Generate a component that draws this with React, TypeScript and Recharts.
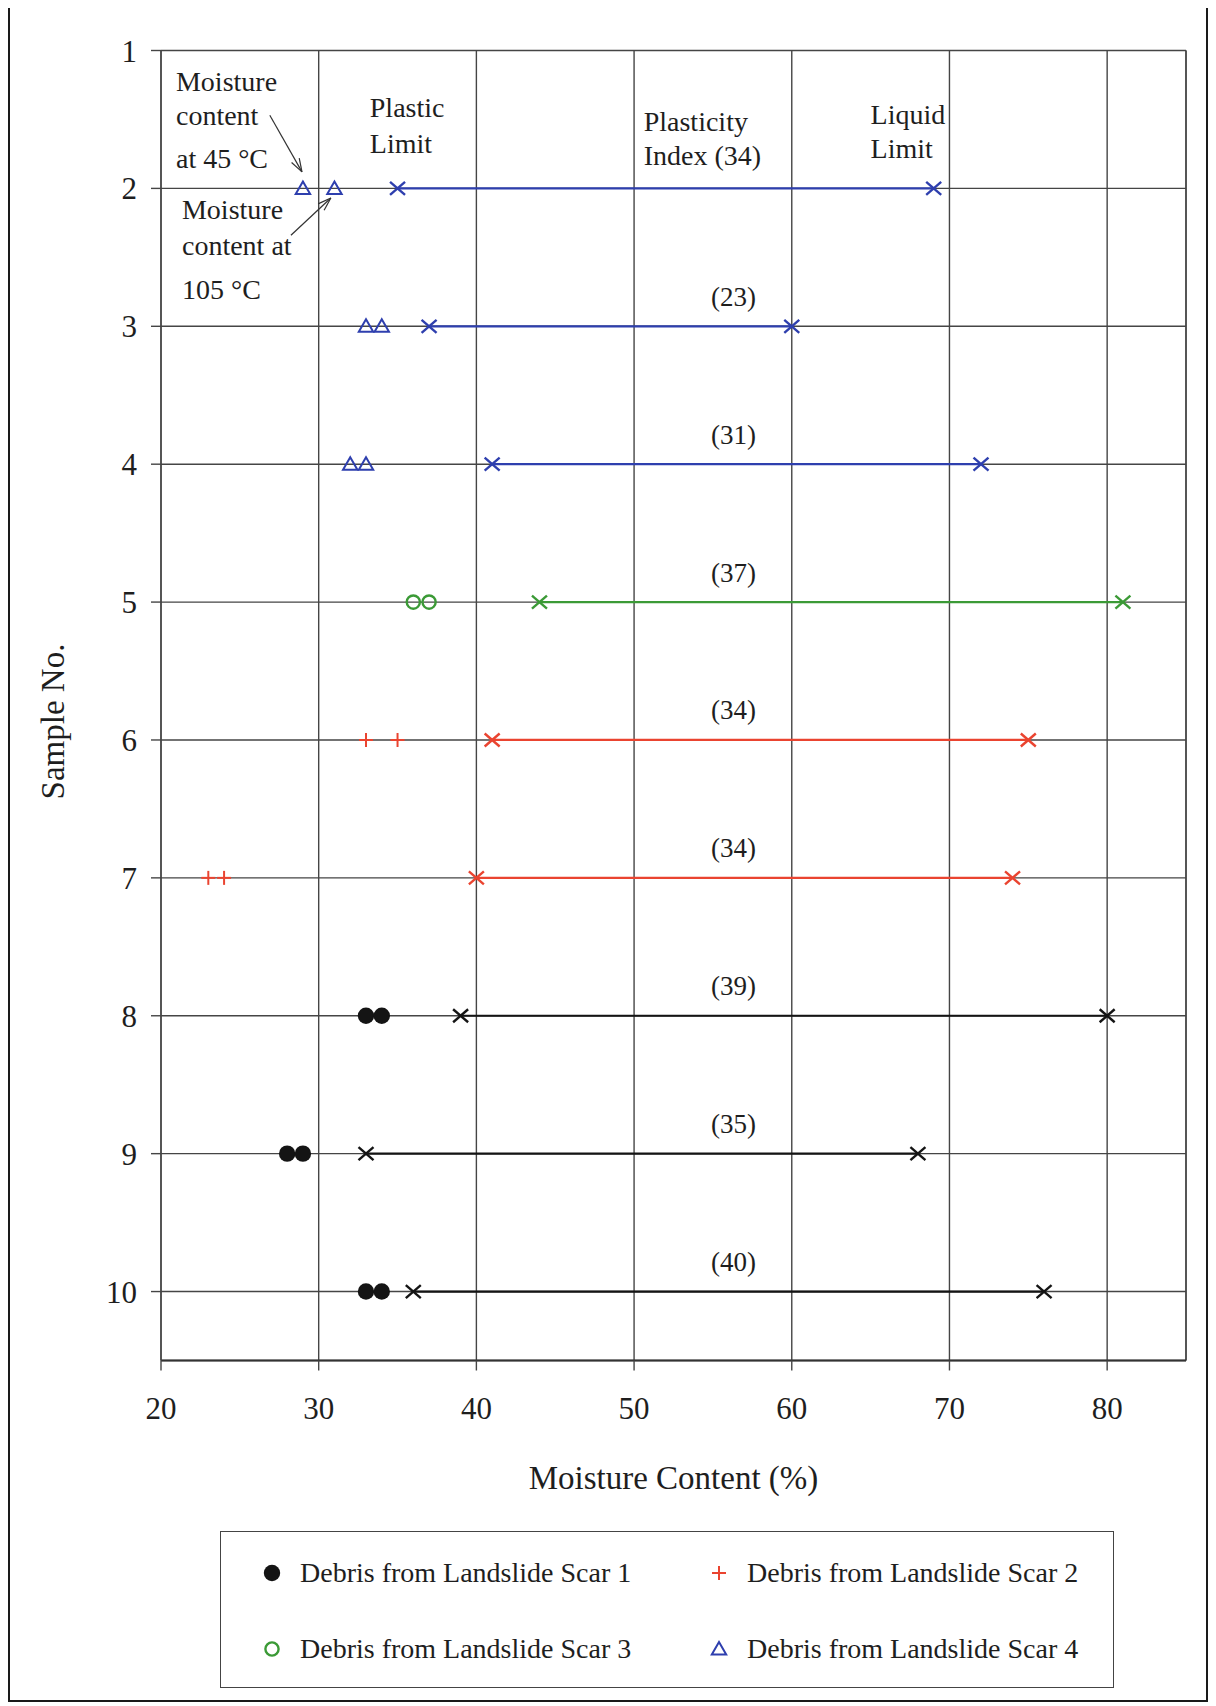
import { ScatterChart, Scatter, XAxis, YAxis, CartesianGrid, ReferenceLine, Label } from 'recharts'

// sample rows and their test results (moisture content, %)
const samples = [2, 3, 4, 5, 6, 7, 8, 9, 10]
const scarOf = [4, 4, 4, 3, 2, 2, 1, 1, 1]
const mc45 = [29, 33, 32, 36, 33, 23, 33, 28, 33]
const mc105 = [31, 34, 33, 37, 35, 24, 34, 29, 34]
const plasticLimit = [35, 37, 41, 44, 41, 40, 39, 33, 36]
const liquidLimit = [69, 60, 72, 81, 75, 74, 80, 68, 76]
const plasticityIndex = [34, 23, 31, 37, 34, 34, 39, 35, 40]

const xTicks = [20, 30, 40, 50, 60, 70, 80]
const yTicks = [1, 2, 3, 4, 5, 6, 7, 8, 9, 10]

type Sym = 'dot' | 'plus' | 'ring' | 'triangle'

const scars: { id: number; name: string; color: string; symbol: Sym }[] = [
  { id: 1, name: 'Debris from Landslide Scar 1', color: '#141414', symbol: 'dot' },
  { id: 2, name: 'Debris from Landslide Scar 2', color: '#ea4430', symbol: 'plus' },
  { id: 3, name: 'Debris from Landslide Scar 3', color: '#3b9a36', symbol: 'ring' },
  { id: 4, name: 'Debris from Landslide Scar 4', color: '#2e3fae', symbol: 'triangle' },
]

// text notes, placed in chart units (x = %, y = sample no.)
const notes = [
  { x: 20.95, y: 1.22, text: 'Moisture' },
  { x: 20.95, y: 1.47, text: 'content' },
  { x: 20.95, y: 1.78, text: 'at 45 °C' },
  { x: 21.33, y: 2.15, text: 'Moisture' },
  { x: 21.33, y: 2.41, text: 'content at' },
  { x: 21.33, y: 2.73, text: '105 °C' },
  { x: 33.24, y: 1.41, text: 'Plastic' },
  { x: 33.24, y: 1.67, text: 'Limit' },
  { x: 50.61, y: 1.51, text: 'Plasticity' },
  { x: 50.61, y: 1.76, text: 'Index (34)' },
  { x: 65.0, y: 1.46, text: 'Liquid' },
  { x: 65.0, y: 1.71, text: 'Limit' },
]

const arrows = [
  { from: { x: 26.9, y: 1.47 }, to: { x: 28.94, y: 1.88 } },
  { from: { x: 28.24, y: 2.34 }, to: { x: 30.77, y: 2.07 } },
]

const PI_LABEL_X = 56.3
const FONT = "'Liberation Serif', 'Times New Roman', serif"
const GRID = '#454545'

const scarById = (id: number) => scars.find(s => s.id === id)!

function drawSymbol(sym: Sym, cx: number, cy: number, color: string) {
  switch (sym) {
    case 'dot':
      return <circle cx={cx} cy={cy} r={8.2} fill={color} />
    case 'ring':
      return <circle cx={cx} cy={cy} r={6.6} fill="none" stroke={color} strokeWidth={2.4} />
    case 'plus':
      return (
        <g stroke={color} strokeWidth={2}>
          <line x1={cx - 7} y1={cy} x2={cx + 7} y2={cy} />
          <line x1={cx} y1={cy - 7} x2={cx} y2={cy + 7} />
        </g>
      )
    default:
      return (
        <polygon
          points={`${cx},${cy - 7} ${cx + 7.2},${cy + 5.5} ${cx - 7.2},${cy + 5.5}`}
          fill="none"
          stroke={color}
          strokeWidth={2}
        />
      )
  }
}

const xMark = (color: string) => (p: any) => (
  <g stroke={color} strokeWidth={2.4}>
    <line x1={p.cx - 7.5} y1={p.cy - 6.5} x2={p.cx + 7.5} y2={p.cy + 6.5} />
    <line x1={p.cx - 7.5} y1={p.cy + 6.5} x2={p.cx + 7.5} y2={p.cy - 6.5} />
  </g>
)

const arrowShape = (p: any) => {
  const { x1, y1, x2, y2 } = p
  const a = Math.atan2(y2 - y1, x2 - x1)
  const L = 14
  const w = 0.32
  return (
    <g stroke="#333" strokeWidth={1.2} fill="none">
      <line x1={x1} y1={y1} x2={x2} y2={y2} />
      <line x1={x2} y1={y2} x2={x2 - L * Math.cos(a - w)} y2={y2 - L * Math.sin(a - w)} />
      <line x1={x2} y1={y2} x2={x2 - L * Math.cos(a + w)} y2={y2 - L * Math.sin(a + w)} />
    </g>
  )
}

function LegendBox() {
  const pos = [
    { left: 51, top: 41 },
    { left: 498, top: 41 },
    { left: 51, top: 117 },
    { left: 498, top: 117 },
  ]
  return (
    <div style={s.legend}>
      {scars.map((sc, i) => (
        <div key={sc.id}>
          <svg width={24} height={24} style={{ position: 'absolute', left: pos[i].left - 12, top: pos[i].top - 12 }}>
            {drawSymbol(sc.symbol, 12, 12, sc.color)}
          </svg>
          <span style={{ ...s.legendText, left: pos[i].left + 28, top: pos[i].top - 18 }}>{sc.name}</span>
        </div>
      ))}
    </div>
  )
}

export default function App() {
  return (
    <div style={s.page}>
      <ScatterChart
        width={1200}
        height={1500}
        margin={{ top: 44.5, right: 22, bottom: 5.5, left: 0 }}
        style={{ fontFamily: FONT }}
      >
        <CartesianGrid stroke={GRID} strokeWidth={1.4} />
        <XAxis
          type="number"
          dataKey="x"
          domain={[20, 85]}
          ticks={xTicks}
          allowDataOverflow
          height={140}
          tickSize={10}
          tickMargin={26}
          axisLine={{ stroke: '#333', strokeWidth: 2.2 }}
          tickLine={{ stroke: GRID, strokeWidth: 1.4 }}
          tick={{ fontSize: 31, fill: '#1e1e1e', fontFamily: FONT }}
        >
          <Label
            content={(p: any) => (
              <text
                x={p.viewBox.x + p.viewBox.width / 2}
                y={p.viewBox.y + 116.5}
                dy="0.35em"
                textAnchor="middle"
                fontSize={33}
                fill="#1e1e1e"
                fontFamily={FONT}
              >
                Moisture Content (%)
              </text>
            )}
          />
        </XAxis>
        <YAxis
          type="number"
          dataKey="y"
          domain={[1, 10.5]}
          ticks={yTicks}
          reversed
          allowDataOverflow
          width={153}
          tickSize={10}
          tickMargin={14}
          axisLine={{ stroke: GRID, strokeWidth: 1.4 }}
          tickLine={{ stroke: GRID, strokeWidth: 1.4 }}
          tick={{ fontSize: 31, fill: '#1e1e1e', fontFamily: FONT }}
        >
          <Label
            content={(p: any) => {
              const cx = 44
              const cy = p.viewBox.y + p.viewBox.height / 2 + 16
              return (
                <text
                  x={cx}
                  y={cy}
                  dy="0.35em"
                  textAnchor="middle"
                  fontSize={33}
                  fill="#1e1e1e"
                  fontFamily={FONT}
                  transform={`rotate(-90 ${cx} ${cy})`}
                >
                  Sample No.
                </text>
              )
            }}
          />
        </YAxis>
        <ReferenceLine x={85} stroke={GRID} strokeWidth={1.4} />

        {/* plastic limit -> liquid limit range per sample */}
        {samples.map((row, i) => {
          const color = scarById(scarOf[i]).color
          return (
            <Scatter
              key={`range-${row}`}
              data={[
                { x: plasticLimit[i], y: row },
                { x: liquidLimit[i], y: row },
              ]}
              fill={color}
              line={{ stroke: color, strokeWidth: 2.2 }}
              shape={xMark(color)}
              isAnimationActive={false}
            />
          )
        })}

        {/* natural moisture content at 45 and 105 °C */}
        {scars.map(sc => (
          <Scatter
            key={`mc-${sc.id}`}
            data={samples.flatMap((row, i) =>
              scarOf[i] === sc.id
                ? [
                    { x: mc45[i], y: row },
                    { x: mc105[i], y: row },
                  ]
                : []
            )}
            fill={sc.color}
            shape={(p: any) => drawSymbol(sc.symbol, p.cx, p.cy, sc.color)}
            isAnimationActive={false}
          />
        ))}

        {/* plasticity index labels (row 2 is in the note above) */}
        <Scatter
          data={samples.slice(1).map((row, i) => ({ x: PI_LABEL_X, y: row, pi: plasticityIndex[i + 1] }))}
          fill="none"
          shape={(p: any) => (
            <text x={p.cx} y={p.cy - 30} dy="0.35em" textAnchor="middle" fontSize={27} fill="#1e1e1e" fontFamily={FONT}>
              ({p.payload.pi})
            </text>
          )}
          isAnimationActive={false}
        />

        {/* annotations */}
        <Scatter
          data={notes}
          fill="none"
          shape={(p: any) => (
            <text x={p.cx} y={p.cy} dy="0.35em" fontSize={28} fill="#1e1e1e" fontFamily={FONT}>
              {p.payload.text}
            </text>
          )}
          isAnimationActive={false}
        />
        {arrows.map((a, i) => (
          <ReferenceLine key={`arrow-${i}`} segment={[a.from, a.to]} shape={arrowShape} />
        ))}
      </ScatterChart>
      <LegendBox />
    </div>
  )
}

const s = {
  page: {
    position: 'relative' as const,
    width: 1200,
    height: 1696,
    marginTop: -2,
    boxShadow: 'inset 0 0 0 2px #1a1a1a',
    background: '#fff',
    fontFamily: FONT,
  } as React.CSSProperties,

  legend: {
    position: 'absolute' as const,
    left: 212,
    top: 1525,
    width: 894,
    height: 157,
    border: '1.5px solid #444',
    boxSizing: 'border-box' as const,
  } as React.CSSProperties,

  legendText: {
    position: 'absolute' as const,
    fontSize: 28,
    lineHeight: '36px',
    color: '#1e1e1e',
    whiteSpace: 'nowrap' as const,
  } as React.CSSProperties,
}
